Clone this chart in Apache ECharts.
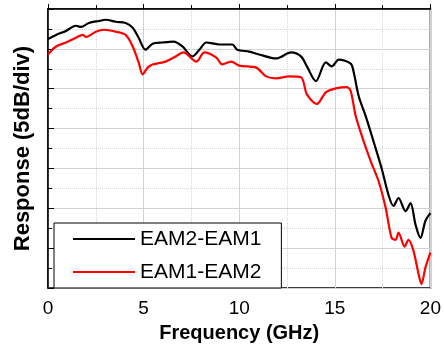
<!DOCTYPE html>
<html>
<head>
<meta charset="utf-8">
<script src="https://cdn.jsdelivr.net/npm/echarts@6/dist/echarts.min.js"></script>
<style>
  html, body { margin: 0; padding: 0; background: #fff; }
  #chart { width: 444px; height: 348px; }
</style>
</head>
<body>
<div id="chart"></div>
<script>
// response, in dB below the top of the frame (5 dB per div)
var blackFreq = [0, 0.42, 0.94, 1.46, 1.72, 2.14, 2.66, 3.02, 3.54, 4.06, 4.43, 4.74, 5.1, 5.47, 5.99, 6.56, 7.03, 7.55, 7.92, 8.28, 8.96, 9.64, 9.9, 10.52, 11.04, 11.93, 12.71, 13.23, 13.54, 14.01, 14.53, 14.84, 15.21, 15.83, 15.99, 16.25, 16.61, 17.03, 17.45, 17.81, 18.07, 18.33, 18.7, 18.96, 19.22, 19.48, 19.74, 20];
var blackResp = [-7.5, -6.5, -5.5, -4.2, -4.5, -3.5, -3.0, -2.7, -3.2, -3.5, -4.7, -7.2, -10.2, -8.7, -8.4, -8.2, -9.4, -11.9, -10.2, -8.4, -8.9, -8.9, -10.2, -10.7, -11.4, -12.4, -10.9, -11.9, -14.4, -18.1, -13.4, -14.4, -12.7, -13.7, -15.9, -21.9, -26.8, -33.3, -40.0, -46.7, -49.4, -47.4, -50.7, -48.7, -54.1, -57.4, -53.1, -51.2];

var redFreq = [0, 0.42, 0.94, 1.46, 1.82, 1.98, 2.5, 2.92, 3.54, 4.06, 4.43, 4.74, 4.95, 5.21, 5.47, 6.15, 6.67, 7.08, 7.76, 8.18, 8.8, 9.11, 9.58, 10, 10.89, 11.41, 11.93, 12.6, 13.23, 13.54, 14.06, 14.53, 15.05, 15.63, 15.83, 16.09, 16.41, 16.88, 17.29, 17.66, 17.97, 18.18, 18.33, 18.65, 18.85, 19.11, 19.38, 19.53, 19.74, 20];
var redResp = [-11.4, -9.4, -8.4, -7.2, -6.5, -7.0, -5.7, -5.2, -5.7, -6.5, -9.4, -13.4, -16.4, -14.7, -13.9, -13.2, -11.9, -10.9, -13.2, -10.9, -12.2, -13.9, -13.2, -14.2, -14.7, -16.9, -17.4, -16.9, -17.1, -21.4, -23.8, -20.9, -19.9, -19.6, -20.6, -26.8, -31.8, -38.2, -43.2, -49.9, -57.4, -57.9, -56.1, -59.6, -57.9, -60.6, -66.5, -69.0, -64.8, -61.1];

var seriesNames = ['EAM2-EAM1', 'EAM1-EAM2'];

function pairs(xs, ys) {
  return xs.map(function (x, i) { return [x, ys[i]]; });
}

var myChart = echarts.init(document.getElementById('chart'));
var font = '"Liberation Sans", Arial, sans-serif';

var option = {
  animation: false,
  backgroundColor: '#fff',
  color: ['#000000', '#ff0000'],
  grid: {
    left: 48, right: 12, top: 9, bottom: 57,
    show: true, borderColor: '#000', borderWidth: 1.5
  },
  legend: {
    orient: 'vertical',
    left: 54, top: 223,
    padding: [5, 20, 5, 19],
    itemWidth: 62, itemHeight: 2, itemGap: 11,
    icon: 'rect',
    backgroundColor: '#fff',
    borderColor: '#000', borderWidth: 1,
    textStyle: { fontFamily: font, fontSize: 21, color: '#000', lineHeight: 22, padding: [0, 0, 0, 0] },
    data: seriesNames
  },
  xAxis: {
    type: 'value',
    min: 0, max: 20, interval: 5,
    name: 'Frequency (GHz)',
    nameLocation: 'middle',
    nameGap: 33,
    nameTextStyle: { fontFamily: font, fontSize: 20, fontWeight: 'bold', color: '#000' },
    axisLine: { lineStyle: { color: '#000', width: 1.5 } },
    axisTick: { inside: true, length: 5, lineStyle: { color: '#000' } },
    minorTick: { show: true, splitNumber: 2, length: 4, lineStyle: { color: '#000' } },
    axisLabel: { fontFamily: font, fontSize: 19, color: '#000', margin: 11 },
    splitLine: { show: true, lineStyle: { color: '#d2d2d2', width: 1 } },
    minorSplitLine: { show: true, lineStyle: { color: '#d6d6d6', type: 'dotted', width: 1 } }
  },
  yAxis: {
    type: 'value',
    min: -70, max: 0, interval: 10,
    name: 'Response (5dB/div)',
    nameLocation: 'middle',
    nameGap: 14,
    nameTextStyle: { fontFamily: font, fontSize: 22, fontWeight: 'bold', color: '#000' },
    axisLine: { lineStyle: { color: '#000', width: 1.5 } },
    axisTick: { inside: true, length: 6, lineStyle: { color: '#000' } },
    minorTick: { show: true, splitNumber: 2, length: 4, lineStyle: { color: '#000' } },
    axisLabel: { show: false },
    splitLine: { show: true, lineStyle: { color: '#d2d2d2', width: 1 } },
    minorSplitLine: { show: true, lineStyle: { color: '#d6d6d6', type: 'dotted', width: 1 } }
  },
  series: [
    {
      name: seriesNames[0],
      type: 'line',
      showSymbol: false,
      smooth: 0.3,
      lineStyle: { width: 2.2, color: '#000000' },
      data: pairs(blackFreq, blackResp)
    },
    {
      name: seriesNames[1],
      type: 'line',
      showSymbol: false,
      smooth: 0.3,
      lineStyle: { width: 2.2, color: '#ff0000' },
      data: pairs(redFreq, redResp)
    }
  ]
};

myChart.setOption(option);
</script>
</body>
</html>
